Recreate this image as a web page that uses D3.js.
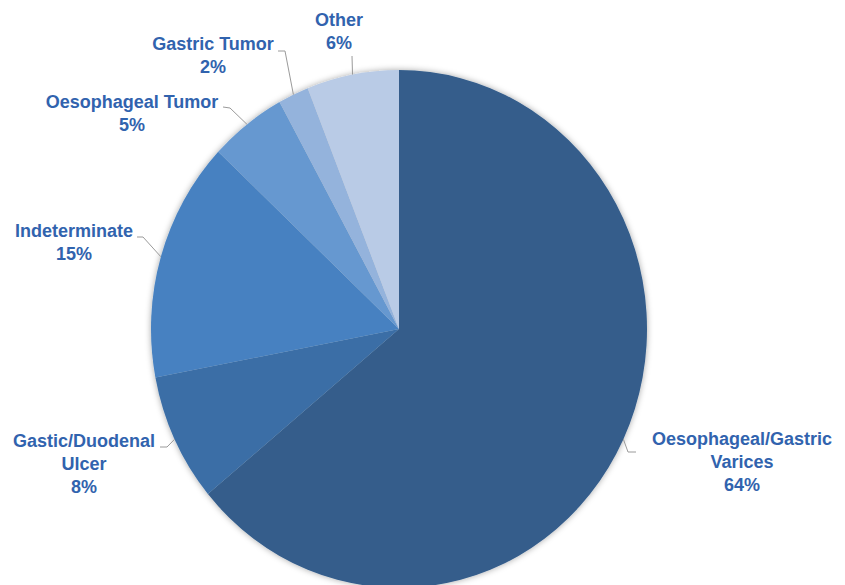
<!DOCTYPE html>
<html>
<head>
<meta charset="utf-8">
<script src="https://cdn.jsdelivr.net/npm/d3@7"></script>
<style>
  body { margin: 0; background: #fff; }
  svg { display: block; }
</style>
</head>
<body>
<svg id="chart" width="845" height="585"></svg>
<script>
// data, clockwise from 12 o'clock
const causes = ["Oesophageal/Gastric Varices", "Gastic/Duodenal Ulcer", "Indeterminate",
  "Oesophageal Tumor", "Gastric Tumor", "Other"];
const shares = [64, 8, 15, 5, 2, 6];
const labelLines = [["Oesophageal/Gastric", "Varices"], ["Gastic/Duodenal", "Ulcer"], ["Indeterminate"],
  ["Oesophageal Tumor"], ["Gastric Tumor"], ["Other"]];
const sliceColors = ["#345d8b", "#3b6ea6", "#4681c1", "#6698d0", "#94b3dc", "#b9cbe6"];

// layout: text centre/first baseline, then leader elbow and end
const labelPos = [
  {x: 742, y: 445, elbow: [628, 452], end: [636, 452]},
  {x: 84, y: 447, elbow: [167, 447], end: [160, 447]},
  {x: 74, y: 237, elbow: [143, 237], end: [137, 237]},
  {x: 132, y: 108, elbow: [230, 108], end: [223, 107]},
  {x: 213, y: 50, elbow: [285, 51], end: [278, 51]},
  {x: 339, y: 26, elbow: [352, 56], end: [352, 56]}
];

const cx = 399, cy = 329, rx = 248, ry = 259;
const svg = d3.select("#chart");

let defs = svg.append("defs");
defs.append("filter")
  .attr("id", "shadow")
  .attr("x", "-10%").attr("y", "-10%").attr("width", "120%").attr("height", "120%")
  .append("feDropShadow")
  .attr("dx", 0).attr("dy", 0)
  .attr("stdDeviation", 3)
  .attr("flood-color", "#000")
  .attr("flood-opacity", 0.35);

let pie = d3.pie().sort(null).value(d => d)(shares);
let arc = d3.arc().innerRadius(0).outerRadius(rx);

svg.append("g")
  .attr("transform", "translate(" + cx + "," + cy + ") scale(1," + (ry / rx) + ")")
  .attr("filter", "url(#shadow)")
  .selectAll("path")
  .data(pie)
  .enter()
  .append("path")
  .attr("d", arc)
  .attr("fill", (d, i) => sliceColors[i]);

// leader lines start on the rim at each slice's middle angle
let leaders = svg.append("g");
pie.forEach(function(d, i) {
  let a = (d.startAngle + d.endAngle) / 2;
  let p0 = [cx + rx * Math.sin(a), cy - ry * Math.cos(a)];
  let lp = labelPos[i];
  leaders.append("path")
    .attr("d", d3.line()([p0, lp.elbow, lp.end]))
    .attr("fill", "none")
    .attr("stroke", "#9a9a9a")
    .attr("stroke-width", 1);
});

let labels = svg.append("g")
  .attr("font-family", "'Liberation Sans', Arial, sans-serif")
  .attr("font-weight", "bold")
  .attr("font-size", 18)
  .attr("fill", "#3163ae")
  .attr("text-anchor", "middle");

causes.forEach(function(c, i) {
  let lines = labelLines[i].concat([shares[i] + "%"]);
  let t = labels.append("text")
    .attr("x", labelPos[i].x)
    .attr("y", labelPos[i].y);
  lines.forEach(function(l, j) {
    t.append("tspan")
      .attr("x", labelPos[i].x)
      .attr("dy", j == 0 ? 0 : 23)
      .text(l);
  });
});
</script>
</body>
</html>
